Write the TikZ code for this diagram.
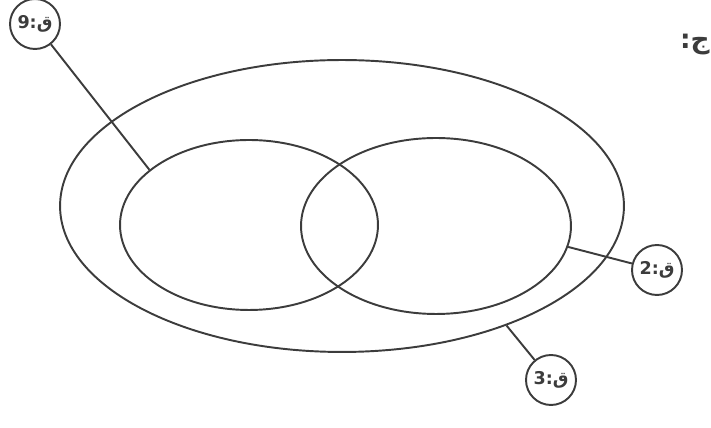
\documentclass[tikz,border=0pt]{standalone}
\usepackage{fontspec}
\newfontfamily\arabicfont[Script=Arabic]{DejaVu Sans}
\TeXXeTstate=1
\usetikzlibrary{shapes.geometric}
\definecolor{inkgray}{RGB}{60,60,60}
\tikzset{setline/.style={line width=1.1pt,draw=inkgray}}
\tikzset{setellipse/.style={setline,ellipse,inner sep=0pt}}
\tikzset{tagcircle/.style={setline,circle,inner sep=0pt,minimum size=1.0cm,
    font=\arabicfont\bfseries\fontsize{10}{10}\selectfont,text=inkgray}}
\begin{document}
\begin{tikzpicture}[x=0.02cm,y=-0.02cm]

\pgfmathsetmacro{\W}{711}
\pgfmathsetmacro{\H}{428}

\pgfmathsetmacro{\xo}{342}
\pgfmathsetmacro{\yo}{206}

\pgfmathsetmacro{\xl}{249}
\pgfmathsetmacro{\yl}{225}

\pgfmathsetmacro{\xr}{436}
\pgfmathsetmacro{\yr}{226}

\useasboundingbox (0,0) rectangle (\W,\H);

    %   外側の楕円
    \node[setellipse,minimum width=11.28cm,minimum height=5.84cm]
        (outer) at (\xo,\yo) {};

    %   内側の楕円（左・右）
    \node[setellipse,minimum width=5.16cm,minimum height=3.40cm]
        (left) at (\xl,\yl) {};
    \node[setellipse,minimum width=5.40cm,minimum height=3.52cm]
        (right) at (\xr,\yr) {};

    %   番号の丸
    \node[tagcircle] (tag9) at (35,24) {\beginR ق:9\endR};
    \node[tagcircle] (tag2) at (657,270) {\beginR ق:2\endR};
    \node[tagcircle] (tag3) at (551,380) {\beginR ق:3\endR};

    %   引き出し線
    \draw[setline] (tag9) -- (left.151);
    \draw[setline] (right.-9) -- (tag2);
    \draw[setline] (outer.-36) -- (tag3);

    %   右上の見出し
    \node[anchor=east,inner sep=0pt,text=inkgray,
        font=\arabicfont\bfseries\fontsize{15}{15}\selectfont]
        (head) at (710,45) {\beginR ج:\endR};

\end{tikzpicture}
\end{document}
